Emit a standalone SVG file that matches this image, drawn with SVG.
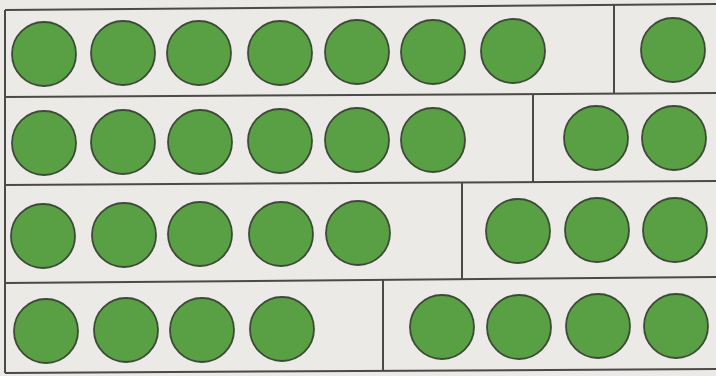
<svg xmlns="http://www.w3.org/2000/svg" width="716" height="376" viewBox="0 0 716 376">
<style>
.bg{fill:#eceae6}
.ln{stroke:#4a4a48;stroke-width:2;fill:none}
.c{fill:#59a044;stroke:#3d4a38;stroke-width:1.8}
</style>
<rect class="bg" x="0" y="0" width="716" height="376"/>
<g id="frame">
<line class="ln" x1="5" y1="10" x2="716" y2="4"/>
<line class="ln" x1="5" y1="97" x2="716" y2="93"/>
<line class="ln" x1="5" y1="185" x2="716" y2="181"/>
<line class="ln" x1="5" y1="283" x2="716" y2="277"/>
<line class="ln" x1="5" y1="373" x2="716" y2="369"/>
<line class="ln" x1="5" y1="10" x2="5" y2="373"/>
<line class="ln" x1="614" y1="5" x2="614" y2="94"/>
<line class="ln" x1="533" y1="94" x2="533" y2="182"/>
<line class="ln" x1="462" y1="182" x2="462" y2="279"/>
<line class="ln" x1="383" y1="279" x2="383" y2="371"/>
</g>
<g id="row1">
<circle class="c" cx="44" cy="54" r="32"/>
<circle class="c" cx="123" cy="53" r="32"/>
<circle class="c" cx="199" cy="53" r="32"/>
<circle class="c" cx="280" cy="53" r="32"/>
<circle class="c" cx="357" cy="52" r="32"/>
<circle class="c" cx="433" cy="52" r="32"/>
<circle class="c" cx="513" cy="51" r="32"/>
<circle class="c" cx="673" cy="50" r="32"/>
</g>
<g id="row2">
<circle class="c" cx="44" cy="143" r="32"/>
<circle class="c" cx="123" cy="142" r="32"/>
<circle class="c" cx="200" cy="142" r="32"/>
<circle class="c" cx="280" cy="141" r="32"/>
<circle class="c" cx="357" cy="140" r="32"/>
<circle class="c" cx="433" cy="140" r="32"/>
<circle class="c" cx="596" cy="138" r="32"/>
<circle class="c" cx="674" cy="138" r="32"/>
</g>
<g id="row3">
<circle class="c" cx="43" cy="236" r="32"/>
<circle class="c" cx="124" cy="235" r="32"/>
<circle class="c" cx="200" cy="234" r="32"/>
<circle class="c" cx="281" cy="234" r="32"/>
<circle class="c" cx="358" cy="233" r="32"/>
<circle class="c" cx="518" cy="231" r="32"/>
<circle class="c" cx="597" cy="230" r="32"/>
<circle class="c" cx="675" cy="230" r="32"/>
</g>
<g id="row4">
<circle class="c" cx="46" cy="331" r="32"/>
<circle class="c" cx="126" cy="330" r="32"/>
<circle class="c" cx="202" cy="330" r="32"/>
<circle class="c" cx="282" cy="329" r="32"/>
<circle class="c" cx="442" cy="327" r="32"/>
<circle class="c" cx="519" cy="327" r="32"/>
<circle class="c" cx="598" cy="326" r="32"/>
<circle class="c" cx="676" cy="326" r="32"/>
</g>
</svg>
